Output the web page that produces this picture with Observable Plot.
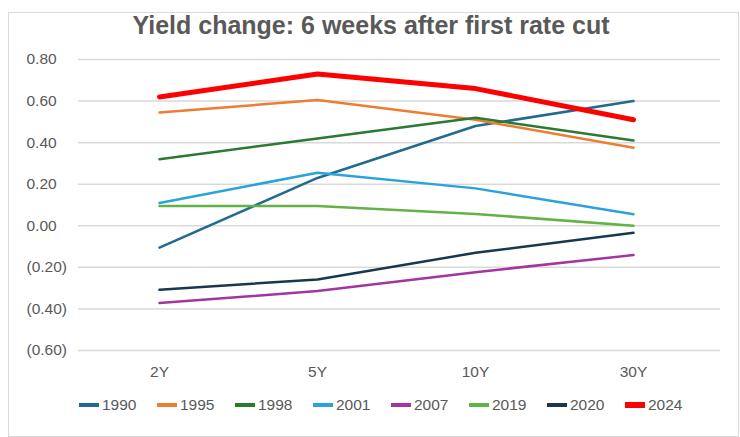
<!DOCTYPE html>
<html>
<head>
<meta charset="utf-8">
<script src="https://cdn.jsdelivr.net/npm/d3@7"></script>
<script src="https://cdn.jsdelivr.net/npm/@observablehq/plot@0.6"></script>
<style>
  html, body { margin: 0; padding: 0; background: #fff; }
  body { width: 740px; height: 437px; position: relative; overflow: hidden; font-family: "Liberation Sans", Arial, sans-serif; }
  #frame { position: absolute; left: 8px; top: 12px; width: 731px; height: 425px; border: 1px solid #d9d9d9; box-sizing: border-box; }
  #title { position: absolute; left: 0; top: 13px; width: 742px; text-align: center; font-size: 25px; line-height: 25px; font-weight: bold; color: #595959; }
  #chart { position: absolute; left: 0; top: 0; }
  #legend { position: absolute; left: 79px; top: 397px; height: 16px; display: flex; font-size: 15.5px; line-height: 16px; color: #595959; }
  .item { width: 78px; display: flex; align-items: center; }
  .sw { width: 20px; height: 4px; margin-right: 3px; }
</style>
</head>
<body>
<div id="frame"></div>
<div id="title">Yield change: 6 weeks after first rate cut</div>
<div id="chart"></div>
<div id="legend"></div>
<script>
const tenors = ["2Y", "5Y", "10Y", "30Y"];
const years = ["1990", "1995", "1998", "2001", "2007", "2019", "2020", "2024"];
const colors = ["#236a8f", "#ed7d31", "#2a7a30", "#2aa3db", "#a3359f", "#62b346", "#17384f", "#ff0000"];
const yTicks = [-0.6, -0.4, -0.2, 0, 0.2, 0.4, 0.6, 0.8];

const s1990 = [-0.105, 0.23, 0.48, 0.60];
const s1995 = [0.545, 0.605, 0.51, 0.375];
const s1998 = [0.32, 0.42, 0.52, 0.41];
const s2001 = [0.11, 0.255, 0.18, 0.055];
const s2007 = [-0.372, -0.314, -0.223, -0.141];
const s2019 = [0.095, 0.095, 0.057, 0.0];
const s2020 = [-0.308, -0.258, -0.13, -0.034];
const s2024 = [0.62, 0.73, 0.66, 0.51];

const series = [s1990, s1995, s1998, s2001, s2007, s2019, s2020, s2024];
const data = [];
years.forEach((yr, i) => tenors.forEach((t, j) => data.push({year: yr, tenor: t, value: series[i][j]})));

const fmt = v => {
  const a = Math.abs(v).toFixed(2);
  return v < -1e-9 ? `(${a})` : a;
};

const chart = Plot.plot({
  width: 740,
  height: 390,
  marginLeft: 78,
  marginRight: 20,
  marginTop: 59,
  marginBottom: 40,
  style: {fontFamily: "Liberation Sans, Arial, sans-serif", fontSize: "15.5px", color: "#595959", background: "transparent", overflow: "visible"},
  x: {type: "point", domain: tenors, padding: 0.52, align: 0.48, label: null},
  y: {domain: [-0.6, 0.8], label: null},
  color: {domain: years, range: colors},
  marks: [
    Plot.gridY(yTicks, {stroke: "#d9d9d9", strokeOpacity: 1, strokeWidth: 1.5}),
    Plot.axisY({ticks: yTicks, tickSize: 0, tickPadding: 52, textAnchor: "start", tickFormat: fmt, label: null}),
    Plot.axisX({tickSize: 0, tickPadding: 15, label: null}),
    Plot.line(data.filter(d => d.year !== "2024"), {x: "tenor", y: "value", z: "year", stroke: "year", strokeWidth: 2.5, strokeLinejoin: "round"}),
    Plot.line(data.filter(d => d.year === "2024"), {x: "tenor", y: "value", z: "year", stroke: "year", strokeWidth: 5, strokeLinejoin: "round"})
  ]
});
document.getElementById("chart").appendChild(chart);

const legend = document.getElementById("legend");
years.forEach((yr, i) => {
  const it = document.createElement("div");
  it.className = "item";
  const sw = document.createElement("span");
  sw.className = "sw";
  sw.style.background = colors[i];
  if (yr === "2024") sw.style.height = "6px";
  const tx = document.createElement("span");
  tx.textContent = yr;
  it.appendChild(sw);
  it.appendChild(tx);
  legend.appendChild(it);
});
</script>
</body>
</html>
